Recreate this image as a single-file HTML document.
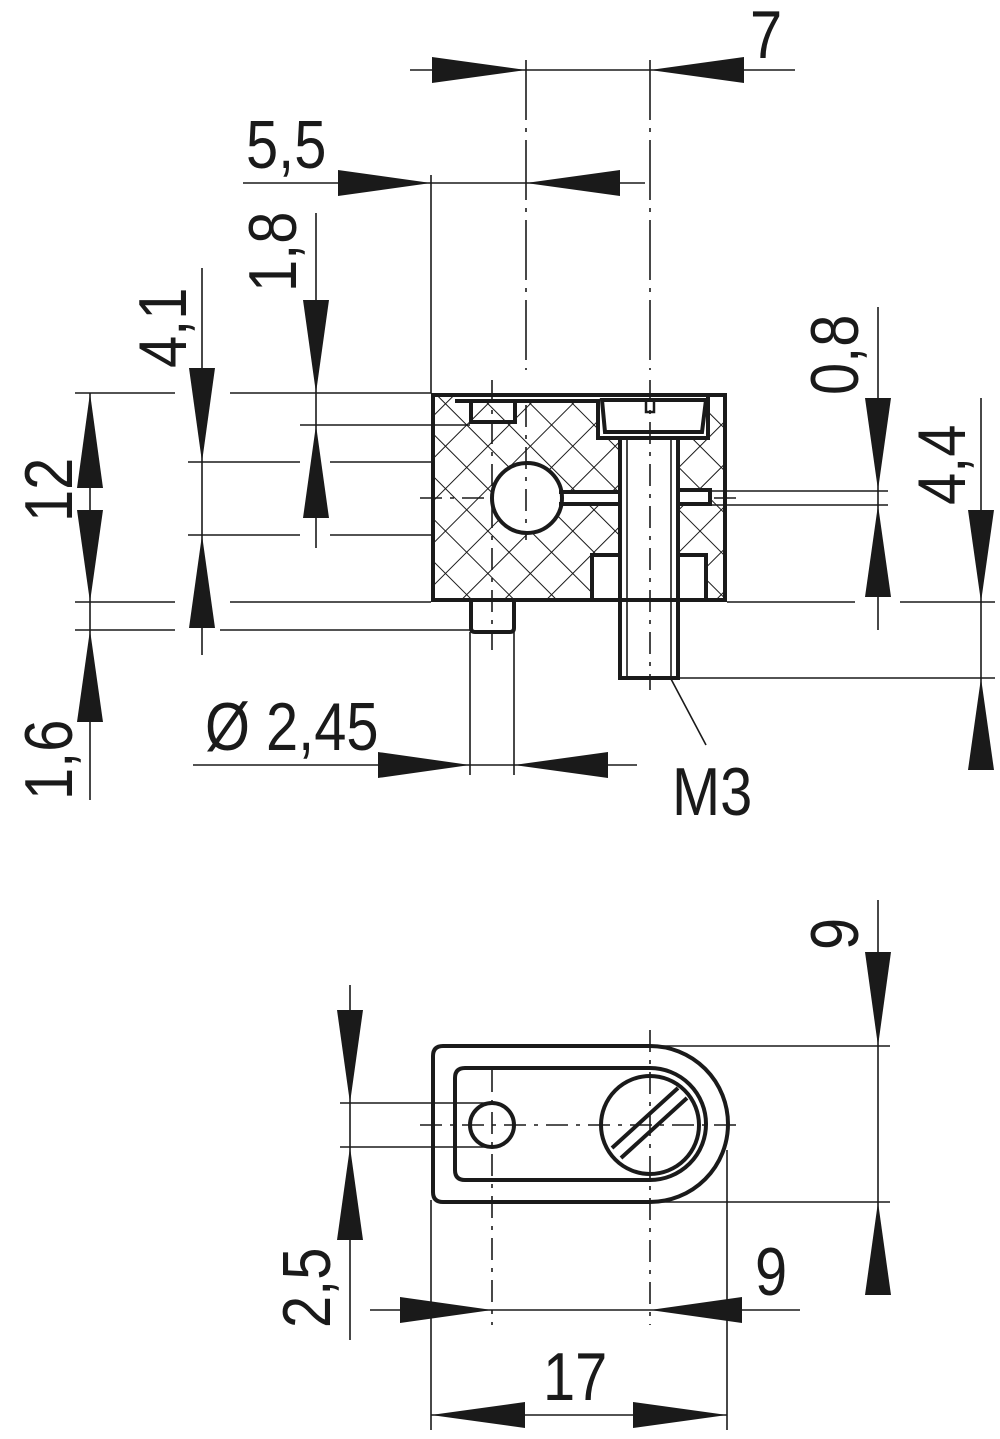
<!DOCTYPE html>
<html><head><meta charset="utf-8"><style>
html,body{margin:0;padding:0;background:#fff}
svg{display:block}
text{font-family:"Liberation Sans",sans-serif;font-size:68px;fill:#1a1a1a}
</style></head><body>
<svg width="1000" height="1439" viewBox="0 0 1000 1439" xmlns="http://www.w3.org/2000/svg">
<defs>
<pattern id="h" width="30" height="30" patternUnits="userSpaceOnUse" patternTransform="rotate(45 0 0)">
<path d="M0 0H30M0 0V30" stroke="#1a1a1a" stroke-width="2" fill="none"/>
</pattern>
</defs>
<g stroke="#1a1a1a" fill="none" stroke-width="1.6">
<line x1="410" y1="70" x2="795" y2="70"/>
<line x1="526" y1="60" x2="526" y2="370" stroke-dasharray="60 8 4 8"/>
<line x1="650" y1="60" x2="650" y2="370" stroke-dasharray="60 8 4 8"/>
<line x1="243" y1="183" x2="645" y2="183"/>
<line x1="431" y1="175" x2="431" y2="393"/>
<line x1="316" y1="213" x2="316" y2="548"/>
<line x1="202" y1="268" x2="202" y2="655"/>
<line x1="90" y1="393" x2="90" y2="800"/>
<line x1="75" y1="393" x2="175" y2="393"/><line x1="230" y1="393" x2="431" y2="393"/>
<line x1="300" y1="425" x2="470" y2="425"/>
<line x1="188" y1="462" x2="300" y2="462"/><line x1="330" y1="462" x2="431" y2="462"/>
<line x1="188" y1="535" x2="300" y2="535"/><line x1="330" y1="535" x2="431" y2="535"/>
<line x1="75" y1="602" x2="175" y2="602"/><line x1="230" y1="602" x2="431" y2="602"/>
<line x1="75" y1="630" x2="175" y2="630"/><line x1="220" y1="630" x2="470" y2="630"/>
<line x1="193" y1="765" x2="637" y2="765"/>
<line x1="470" y1="632" x2="470" y2="775"/>
<line x1="514" y1="632" x2="514" y2="775"/>
<line x1="662" y1="662" x2="706" y2="745"/>
<line x1="878" y1="307" x2="878" y2="630"/>
<line x1="700" y1="491" x2="888" y2="491"/>
<line x1="700" y1="505" x2="888" y2="505"/>
<line x1="727" y1="602" x2="855" y2="602"/><line x1="900" y1="602" x2="995" y2="602"/>
<line x1="981" y1="398" x2="981" y2="770"/>
<line x1="678" y1="678" x2="995" y2="678"/>
<line x1="420" y1="498" x2="740" y2="498" stroke-dasharray="22 8 4 8"/>
<line x1="878" y1="900" x2="878" y2="1295"/>
<line x1="650" y1="1046" x2="890" y2="1046"/>
<line x1="650" y1="1202" x2="890" y2="1202"/>
<line x1="350" y1="985" x2="350" y2="1340"/>
<line x1="340" y1="1103" x2="492" y2="1103"/>
<line x1="340" y1="1147" x2="492" y2="1147"/>
<line x1="370" y1="1310" x2="800" y2="1310"/>
<line x1="431" y1="1415" x2="727" y2="1415"/>
<line x1="431" y1="1200" x2="431" y2="1430"/>
<line x1="727" y1="1150" x2="727" y2="1430"/>
<line x1="492" y1="1070" x2="492" y2="1325" stroke-dasharray="22 8 4 8"/>
<line x1="650" y1="1030" x2="650" y2="1325" stroke-dasharray="22 8 4 8"/>
<line x1="420" y1="1125" x2="740" y2="1125" stroke-dasharray="22 8 4 8"/>
</g>
<g fill="#1a1a1a">
<polygon points="526,70 432,57 432,83"/>
<polygon points="650,70 744,57 744,83"/>
<polygon points="431,183 338,170 338,196"/>
<polygon points="526,183 620,170 620,196"/>
<polygon points="316,393 303,300 329,300"/>
<polygon points="316,425 303,518 329,518"/>
<polygon points="202,462 189,368 215,368"/>
<polygon points="202,535 189,628 215,628"/>
<polygon points="90,393 77,488 103,488"/>
<polygon points="90,602 77,510 103,510"/>
<polygon points="90,630 77,722 103,722"/>
<polygon points="470,765 378,752 378,778"/>
<polygon points="514,765 608,752 608,778"/>
<polygon points="878,490 865,398 891,398"/>
<polygon points="878,505 865,597 891,597"/>
<polygon points="981,602 968,510 994,510"/>
<polygon points="981,678 968,770 994,770"/>
<polygon points="878,1046 865,952 891,952"/>
<polygon points="878,1202 865,1295 891,1295"/>
<polygon points="350,1103 337,1010 363,1010"/>
<polygon points="350,1147 337,1240 363,1240"/>
<polygon points="492,1310 400,1297 400,1323"/>
<polygon points="650,1310 742,1297 742,1323"/>
<polygon points="431,1415 525,1402 525,1428"/>
<polygon points="727,1415 633,1402 633,1428"/>
</g>
<rect x="431" y="393" width="296" height="209" fill="url(#h)"/>
<g fill="#fff" stroke="none">
<rect x="598" y="393" width="110" height="46"/>
<rect x="620" y="436" width="58" height="242"/>
<rect x="592" y="553" width="30" height="49"/>
<rect x="676" y="553" width="30" height="49"/>
<rect x="555" y="492" width="66" height="12"/>
<rect x="676" y="490" width="34" height="14"/>
<rect x="455" y="393" width="145" height="8"/>
<circle cx="527" cy="498" r="35"/>
</g>
<g stroke="#1a1a1a" fill="none" stroke-width="4">
<rect x="433" y="395" width="292" height="205"/>
<circle cx="527" cy="498" r="35"/>
<path d="M559 492H620M559 504H620"/>
<path d="M678 490H710V504H678"/>
<rect x="471" y="401" width="44" height="21"/>
<path d="M455 401H598V438H708V395"/>
<path d="M602 400L605 432H702L706 400Z"/>
<rect x="620" y="438" width="58" height="240"/>
<path d="M592 600V555H620M678 555H706V600"/>
<path d="M471 602V628Q471 632 475 632H510Q514 632 514 628V602"/>
</g>
<g stroke="#1a1a1a" stroke-width="1.6" fill="none">
<line x1="627" y1="440" x2="627" y2="676"/><line x1="671" y1="440" x2="671" y2="676"/>
<line x1="650" y1="380" x2="650" y2="690" stroke-dasharray="22 8 4 8"/>
<line x1="526" y1="405" x2="526" y2="540" stroke-dasharray="22 8 4 8"/>
<line x1="492" y1="380" x2="492" y2="650" stroke-dasharray="22 8 4 8"/>
<rect x="646" y="400" width="8" height="12" stroke-width="2.5"/>
</g>
<g stroke="#1a1a1a" fill="none" stroke-width="4">
<path d="M443 1046H650A78 78 0 0 1 650 1202H443Q433 1202 433 1192V1056Q433 1046 443 1046Z"/>
<path d="M465 1068H650A56 56 0 0 1 650 1180H465Q455 1180 455 1170V1078Q455 1068 465 1068Z"/>
<circle cx="492" cy="1125" r="22"/>
<circle cx="650" cy="1125" r="49"/>
<path d="M612 1148L678 1088M621 1158L687 1098"/>
</g>
<g>
<text transform="translate(750,58) scale(0.85,1)">7</text>
<text transform="translate(246,168) scale(0.85,1)">5,5</text>
<text transform="translate(296,292) rotate(-90) scale(0.85,1)">1,8</text>
<text transform="translate(186,368) rotate(-90) scale(0.85,1)">4,1</text>
<text transform="translate(72,522) rotate(-90) scale(0.85,1)">12</text>
<text transform="translate(72,800) rotate(-90) scale(0.85,1)">1,6</text>
<text transform="translate(205,750) scale(0.85,1)">Ø 2,45</text>
<text transform="translate(672,815) scale(0.85,1)">M3</text>
<text transform="translate(858,395) rotate(-90) scale(0.85,1)">0,8</text>
<text transform="translate(965,505) rotate(-90) scale(0.85,1)">4,4</text>
<text transform="translate(858,950) rotate(-90) scale(0.85,1)">9</text>
<text transform="translate(330,1328) rotate(-90) scale(0.85,1)">2,5</text>
<text transform="translate(755,1295) scale(0.85,1)">9</text>
<text transform="translate(543,1400) scale(0.85,1)">17</text>
</g>
</svg>
</body></html>
